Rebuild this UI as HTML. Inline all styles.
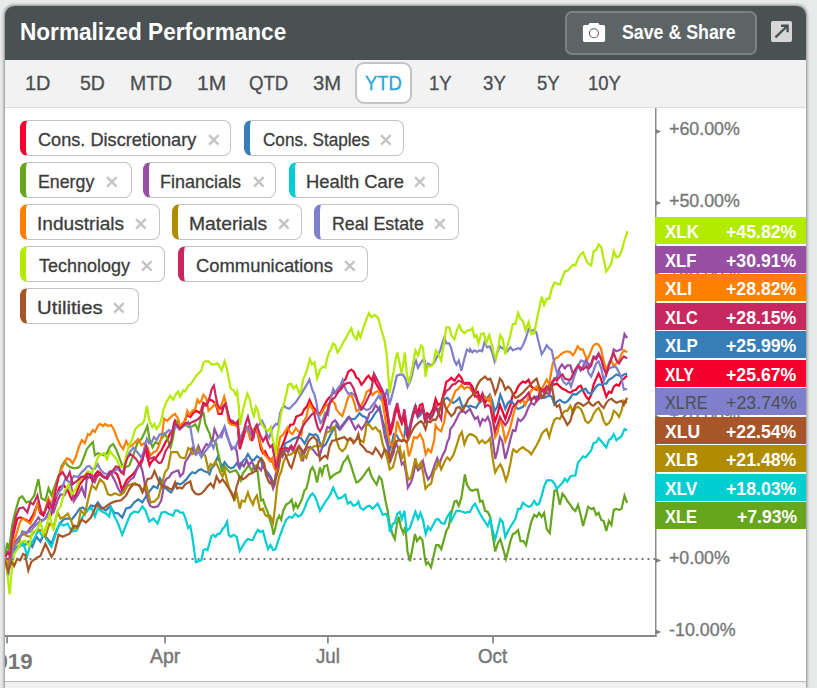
<!DOCTYPE html>
<html lang="en">
<head>
<meta charset="utf-8">
<title>Normalized Performance</title>
<style>
html,body{margin:0;padding:0;}
html{width:817px;height:688px;overflow:hidden;}
body{width:817px;height:688px;overflow:hidden;background:#e8eaea;font-family:"Liberation Sans", sans-serif;position:relative;}
.card{position:absolute;left:5px;top:6px;width:801px;height:682px;background:#fff;border-radius:9px 9px 0 0;box-shadow:0 0 3px 0.5px rgba(0,0,0,0.42);overflow:hidden;}
.abs{position:absolute;left:-5px;top:-6px;width:817px;height:688px;}
.hdr{position:absolute;left:5px;top:6px;width:801px;height:53.5px;background:#4a5153;}
.tabs{position:absolute;left:5px;top:59.5px;width:801px;height:47.5px;background:#f2f2f2;border-bottom:1px solid #dcdcdc;}
.plot{position:absolute;left:5px;top:108px;width:801px;height:573px;background:#fff;border-bottom:1.3px solid #b9b9b9;}
.foot{position:absolute;left:5px;top:682.3px;width:801px;height:5.7px;background:#f0f0f0;}
.t{position:absolute;white-space:pre;line-height:1;transform-origin:0 0;}
.btn{position:absolute;left:564.6px;top:10.6px;width:188.4px;height:40.4px;border:2px solid #7b8284;border-radius:7px;background:#5c6466;}
.ytd{position:absolute;left:355.3px;top:61.8px;width:52.7px;height:38px;border:2px solid #c4c4c4;border-radius:9px;background:#fff;}
.exp{position:absolute;left:771.3px;top:20.8px;width:21.2px;height:21px;border-radius:2px;background:#d6d6d6;}
.chip{position:absolute;box-sizing:border-box;height:35.6px;border:1.7px solid #c3c3c3;border-left:6px solid #000;border-radius:7.5px;background:#fff;}
.x{position:absolute;}
.x path{stroke:#c4c4c4;stroke-width:2.4;fill:none;}
.lab{position:absolute;left:655px;width:151px;height:27px;}
svg.chart{position:absolute;left:0;top:0;}
svg.chart .ln path{fill:none;stroke-width:2.2;stroke-linejoin:miter;stroke-linecap:butt;}
</style>
</head>
<body>
<div class="card"><div class="abs">
<div class="hdr"></div>
<span class="t" style="left:19.70px;top:20.07px;font-size:24.25px;font-weight:700;color:#ffffff;transform:scaleX(0.9319)">Normalized Performance</span>
<div class="btn"></div>
<svg class="x" style="left:582px;top:21px" width="26" height="24" viewBox="582 21 26 24">
<path d="M584.6 24.9 H588.3 L589.6 23.1 H598.4 L599.7 24.9 H603.4 Q605.1 24.9 605.1 26.6 V40.3 Q605.1 42 603.4 42 H584.6 Q582.9 42 582.9 40.3 V26.6 Q582.9 24.9 584.6 24.9 Z" style="fill:#fff;stroke:none"/>
<circle cx="593.9" cy="33.3" r="4.5" style="fill:#fff;stroke:#596163;stroke-width:1.1"/>
</svg>
<span class="t" style="left:621.66px;top:21.88px;font-size:20.93px;font-weight:700;color:#ffffff;transform:scaleX(0.8491)">Save &amp; Share</span>
<div class="exp"></div>
<svg class="x" style="left:771px;top:20px" width="22" height="22" viewBox="771 20 22 22">
<path d="M775.4 37.4 L787.2 26" style="stroke:#4a5153;stroke-width:2.4;fill:none"/>
<path d="M781 25.8 H787.6 V32.3" style="stroke:#4a5153;stroke-width:2.4;fill:none;stroke-linejoin:miter"/>
</svg>
<div class="tabs"></div>
<div class="ytd"></div>
<span class="t" style="left:25.45px;top:74.14px;font-size:19.33px;font-weight:400;color:#4a4f52;transform:scaleX(1.0337);-webkit-text-stroke:0.3px #4a4f52">1D</span>
<span class="t" style="left:79.74px;top:74.14px;font-size:19.33px;font-weight:400;color:#4a4f52;transform:scaleX(1.0087);-webkit-text-stroke:0.3px #4a4f52">5D</span>
<span class="t" style="left:130.09px;top:74.14px;font-size:19.33px;font-weight:400;color:#4a4f52;transform:scaleX(1.0051);-webkit-text-stroke:0.3px #4a4f52">MTD</span>
<span class="t" style="left:196.97px;top:74.14px;font-size:19.33px;font-weight:400;color:#4a4f52;transform:scaleX(1.0863);-webkit-text-stroke:0.3px #4a4f52">1M</span>
<span class="t" style="left:249.04px;top:74.14px;font-size:19.33px;font-weight:400;color:#4a4f52;transform:scaleX(0.9626);-webkit-text-stroke:0.3px #4a4f52">QTD</span>
<span class="t" style="left:312.92px;top:74.14px;font-size:19.33px;font-weight:400;color:#4a4f52;transform:scaleX(1.0449);-webkit-text-stroke:0.3px #4a4f52">3M</span>
<span class="t" style="left:429.16px;top:74.14px;font-size:19.33px;font-weight:400;color:#4a4f52;transform:scaleX(0.9581);-webkit-text-stroke:0.3px #4a4f52">1Y</span>
<span class="t" style="left:483.28px;top:74.14px;font-size:19.33px;font-weight:400;color:#4a4f52;transform:scaleX(0.9663);-webkit-text-stroke:0.3px #4a4f52">3Y</span>
<span class="t" style="left:537.08px;top:74.14px;font-size:19.33px;font-weight:400;color:#4a4f52;transform:scaleX(0.9618);-webkit-text-stroke:0.3px #4a4f52">5Y</span>
<span class="t" style="left:587.77px;top:74.14px;font-size:19.33px;font-weight:400;color:#4a4f52;transform:scaleX(0.9550);-webkit-text-stroke:0.3px #4a4f52">10Y</span>
<span class="t" style="left:365.22px;top:74.14px;font-size:19.33px;font-weight:400;color:#2ba6d6;transform:scaleX(0.9557);-webkit-text-stroke:0.3px #2ba6d6">YTD</span>
<div class="plot"></div>
<div class="foot"></div>
<svg class="chart" width="817" height="688" viewBox="0 0 817 688">
<g class="ln">
<path d="M5.5 557.9 L9.1 559.9 L13.1 535.7 L17.2 518.5 L20.2 517.5 L25.2 519.5 L29.3 521.5 L33.3 514.5 L37.4 504.4 L40.4 513.5 L43.4 515.5 L47.5 504.4 L51.5 513.5 L55.5 499.3 L59.6 487.2 L63.6 485.2 L67.7 490.2 L71.7 499.3 L75.7 495.3 L79.8 484.2 L83.8 479.1 L85.0 478.6 L87.2 476.4 L90.0 477.5 L92.7 478.6 L95.5 474.2 L97.7 471.4 L100.5 473.1 L103.2 476.4 L106.0 477.5 L108.7 474.2 L111.5 473.1 L114.3 472.0 L117.0 474.2 L119.2 479.7 L122.0 490.2 L124.2 485.2 L127.0 479.7 L129.2 477.5 L132.5 474.7 L134.7 472.0 L136.9 468.7 L139.1 464.2 L141.3 460.9 L143.5 454.3 L145.7 448.8 L147.4 457.6 L149.6 465.3 L151.3 462.0 L153.5 459.8 L156.2 457.6 L158.4 454.3 L161.2 451.0 L163.4 446.6 L165.6 442.1 L167.8 438.8 L170.0 433.3 L172.2 431.1 L175.1 420.9 L178.2 427.0 L181.2 425.0 L184.2 421.9 L187.3 414.9 L190.3 416.9 L193.3 412.8 L196.4 410.8 L199.4 412.8 L201.4 409.8 L203.4 402.7 L206.5 404.8 L209.5 399.7 L212.5 400.7 L214.5 402.7 L216.5 406.8 L218.6 413.9 L221.6 413.9 L223.6 406.8 L225.6 403.8 L227.7 412.8 L229.7 420.9 L232.7 423.9 L235.7 425.0 L237.8 427.0 L239.8 449.2 L242.8 439.1 L245.8 429.0 L247.9 427.0 L249.9 433.0 L251.9 441.1 L253.9 432.0 L255.9 427.0 L259.0 439.1 L261.0 449.2 L263.0 453.2 L265.0 451.2 L268.0 457.3 L270.1 459.3 L272.1 461.3 L275.1 467.4 L276.7 469.4 L278.1 456.8 L281.4 448.0 L284.8 439.2 L287.5 431.4 L290.3 424.8 L293.6 424.3 L296.3 416.5 L299.1 415.4 L301.9 414.3 L304.1 409.4 L306.8 406.6 L309.6 400.0 L312.4 406.0 L315.1 409.4 L317.9 413.8 L320.6 412.7 L323.4 407.1 L326.2 401.6 L328.9 397.8 L330.1 396.9 L333.2 392.9 L335.2 392.9 L338.2 388.9 L341.3 386.8 L343.3 380.8 L345.3 379.8 L348.3 371.7 L351.4 369.7 L353.8 371.7 L356.4 377.8 L358.4 378.8 L361.5 384.8 L364.5 380.8 L366.5 377.8 L368.5 375.7 L371.5 379.8 L373.6 375.7 L375.6 382.8 L378.6 387.9 L381.6 392.9 L384.7 403.0 L386.7 413.1 L388.7 425.2 L390.1 435.3 L392.8 425.2 L394.8 415.1 L397.2 407.0 L399.4 417.1 L401.8 423.2 L403.9 415.1 L405.9 429.3 L407.9 438.9 L409.9 429.3 L411.9 419.2 L415.0 409.1 L417.4 416.1 L420.0 405.0 L422.4 404.0 L425.1 417.1 L427.1 413.1 L430.1 415.1 L433.1 409.1 L435.6 399.0 L438.2 405.0 L441.2 403.0 L444.3 390.9 L446.3 381.8 L449.3 379.8 L451.3 377.8 L454.4 380.8 L456.4 377.8 L458.8 374.7 L461.4 377.8 L463.4 382.8 L466.5 382.8 L469.5 382.8 L472.4 386.6 L475.0 393.7 L477.7 391.7 L480.1 398.8 L482.5 393.7 L485.1 402.8 L487.8 397.8 L490.2 399.8 L492.6 410.9 L495.2 421.0 L497.3 414.9 L499.9 404.8 L502.3 410.9 L505.3 419.0 L508.0 410.9 L510.4 404.8 L512.8 394.7 L515.4 392.7 L518.1 386.6 L520.5 383.6 L522.9 381.6 L525.5 382.6 L528.6 379.6 L531.2 386.6 L534.2 388.7 L536.6 389.7 L539.1 387.7 L541.7 388.7 L544.1 389.7 L546.7 386.6 L549.2 386.6 L551.8 385.6 L554.4 384.6 L556.8 383.6 L559.9 386.6 L562.5 388.7 L564.9 389.7 L567.9 391.7 L570.4 392.7 L573.0 390.7 L576.0 389.7 L578.5 386.6 L580.7 385.6 L583.1 390.7 L586.1 396.7 L588.8 399.8 L591.2 394.7 L593.6 384.6 L596.2 378.6 L598.6 373.5 L601.3 379.6 L603.7 388.7 L606.3 396.7 L608.9 391.7 L611.4 392.7 L613.8 386.6 L616.4 384.6 L619.0 385.6 L621.5 380.6 L623.9 378.6 L627.1 375.5" stroke="#f4002d"/>
<path d="M5.5 559.9 L8.1 566.0 L12.1 553.9 L16.2 547.8 L20.2 544.8 L24.2 545.8 L28.3 541.7 L32.3 546.8 L36.4 536.7 L40.4 541.7 L43.4 534.7 L47.5 538.7 L51.5 543.8 L55.5 532.7 L59.6 523.6 L63.6 519.5 L67.7 518.5 L71.7 519.5 L75.7 514.5 L79.8 508.4 L82.8 507.4 L86.8 511.5 L90.9 505.4 L94.9 506.4 L97.9 502.4 L102.0 508.4 L106.0 510.4 L110.1 506.4 L114.1 512.5 L118.1 513.5 L122.2 517.5 L126.2 508.4 L130.3 507.4 L134.3 502.4 L138.3 499.3 L142.4 502.4 L145.4 497.3 L149.4 491.3 L153.5 486.2 L157.5 488.2 L160.0 478.4 L163.0 483.4 L165.0 487.5 L168.1 490.5 L171.1 492.5 L174.1 487.5 L177.2 483.4 L180.2 484.4 L183.2 482.4 L186.3 479.4 L189.3 475.3 L192.3 472.3 L195.3 473.3 L198.4 470.3 L201.4 469.3 L204.4 471.3 L207.5 472.3 L209.5 474.3 L211.5 468.3 L214.5 465.2 L217.6 457.2 L220.6 463.2 L222.6 466.3 L224.6 462.2 L227.7 466.3 L230.7 468.3 L233.7 467.3 L236.7 463.2 L239.8 468.3 L242.8 461.2 L245.8 458.2 L247.9 454.1 L250.9 459.2 L253.9 460.2 L256.9 456.2 L260.0 458.2 L263.0 466.3 L266.0 470.3 L269.1 474.3 L271.1 477.4 L273.1 483.4 L275.1 479.4 L278.1 460.2 L281.2 452.1 L284.2 450.1 L284.8 443.6 L289.2 441.4 L293.6 438.6 L298.0 437.0 L301.3 438.6 L304.6 443.6 L307.4 438.1 L309.6 433.7 L312.4 435.3 L315.7 434.2 L317.9 436.4 L320.1 443.6 L322.3 446.9 L325.6 444.7 L328.9 438.1 L332.2 431.4 L335.0 427.0 L336.2 425.2 L339.2 429.3 L342.3 425.2 L345.3 421.2 L348.3 417.1 L351.4 419.2 L354.4 419.2 L357.4 416.1 L359.4 413.1 L362.5 416.1 L365.5 417.1 L368.5 423.2 L371.5 419.2 L374.6 414.1 L377.6 410.1 L379.6 407.0 L382.7 421.2 L385.7 429.3 L387.7 442.1 L389.7 450.2 L391.7 444.1 L393.8 434.0 L396.8 435.3 L398.8 439.4 L401.8 441.4 L403.9 438.9 L405.9 425.2 L407.9 433.3 L409.9 425.2 L412.9 413.1 L415.4 406.0 L418.0 417.1 L420.4 415.1 L423.0 409.1 L425.5 423.2 L427.7 415.1 L430.5 417.1 L433.1 413.1 L435.6 410.1 L438.2 409.1 L441.2 407.0 L444.3 399.0 L447.3 397.9 L450.3 401.0 L453.3 403.0 L456.4 401.0 L459.4 397.9 L462.4 407.0 L465.5 405.0 L468.5 407.0 L470.0 405.8 L473.0 406.8 L476.1 407.9 L479.1 402.8 L482.1 400.8 L484.5 396.7 L487.2 398.8 L489.8 394.7 L492.2 400.8 L494.6 410.9 L497.3 406.8 L500.3 394.7 L502.7 400.8 L505.3 408.9 L508.0 402.8 L510.4 400.8 L512.8 402.8 L515.4 406.8 L518.1 408.9 L520.5 407.9 L522.9 406.8 L525.5 402.8 L528.6 399.8 L531.2 398.8 L534.2 397.8 L536.6 396.7 L539.1 396.7 L541.7 397.8 L544.1 397.8 L546.7 396.7 L549.2 395.7 L551.8 396.7 L554.4 404.8 L556.8 401.8 L559.9 399.8 L562.5 401.8 L564.9 402.8 L567.9 400.8 L570.4 397.8 L573.0 393.7 L576.0 394.7 L578.5 392.7 L580.7 390.7 L583.1 389.7 L585.5 388.7 L588.1 392.7 L591.2 393.7 L593.6 390.7 L596.2 386.6 L598.6 384.6 L601.3 384.6 L603.7 383.6 L606.3 383.6 L608.9 379.6 L611.4 378.6 L613.8 376.5 L616.4 374.5 L619.0 375.5 L621.5 376.5 L623.9 374.5 L627.1 373.5" stroke="#377eb8"/>
<path d="M5.5 555.9 L7.1 542.8 L9.1 549.8 L12.1 525.6 L15.1 512.5 L19.2 498.3 L22.2 496.3 L26.3 502.4 L30.3 501.4 L34.3 495.3 L38.4 479.1 L41.4 498.3 L45.4 500.3 L48.5 488.2 L51.5 495.3 L55.5 484.2 L59.6 473.1 L61.6 466.0 L64.6 461.3 L67.7 465.4 L70.7 467.4 L74.7 468.4 L78.8 467.4 L80.8 464.9 L83.8 457.3 L86.8 449.2 L89.9 445.2 L92.9 442.1 L94.9 455.3 L97.9 453.2 L101.0 454.2 L104.0 455.3 L107.0 453.2 L110.1 446.2 L113.1 444.1 L116.1 449.2 L119.2 457.3 L122.2 465.4 L125.2 467.4 L129.3 465.4 L133.3 455.3 L137.3 443.1 L141.4 439.1 L144.4 433.0 L147.4 426.0 L149.4 439.1 L152.5 447.2 L155.5 442.1 L158.5 444.1 L160.0 441.4 L162.8 437.0 L165.0 433.7 L167.7 439.2 L170.5 447.5 L172.7 439.2 L174.9 427.0 L177.1 421.5 L179.3 429.2 L182.1 427.0 L186.0 424.8 L188.7 427.0 L192.0 426.5 L195.3 424.3 L198.1 430.3 L200.3 420.4 L201.4 411.6 L203.6 413.2 L205.3 423.7 L207.5 429.2 L209.7 433.7 L210.8 438.6 L212.5 439.2 L216.3 443.6 L217.4 450.2 L219.1 456.8 L220.7 465.7 L221.8 471.0 L222.6 471.3 L224.6 466.3 L227.7 470.3 L229.7 472.3 L232.7 471.3 L235.7 470.3 L237.8 473.3 L240.8 480.4 L242.8 473.3 L245.8 469.3 L248.9 465.2 L251.9 471.3 L253.9 466.3 L256.9 465.2 L259.0 483.4 L261.0 500.6 L263.0 499.6 L265.0 505.6 L268.0 512.7 L270.1 520.8 L272.1 526.8 L273.5 534.9 L275.1 528.9 L277.1 519.8 L279.2 515.7 L281.2 519.8 L283.2 510.7 L286.2 504.6 L289.3 502.6 L291.7 499.6 L293.7 508.7 L295.7 503.6 L297.7 507.7 L300.4 502.6 L302.4 497.6 L304.4 490.5 L306.4 488.5 L308.4 480.4 L310.5 470.3 L312.5 467.3 L314.5 471.3 L315.0 473.4 L317.0 482.5 L320.0 467.4 L322.1 474.4 L324.1 466.4 L327.1 465.3 L330.1 478.5 L333.2 475.4 L336.2 473.4 L340.2 471.4 L343.3 462.3 L345.3 460.3 L347.7 456.3 L350.3 463.3 L353.4 473.4 L356.4 482.5 L358.4 481.5 L361.5 478.5 L364.5 474.4 L366.5 471.4 L368.9 468.4 L371.5 476.5 L374.6 481.5 L376.6 484.5 L379.2 476.5 L381.6 479.5 L383.7 490.6 L385.7 501.7 L387.7 510.8 L389.7 524.9 L392.8 535.0 L394.8 539.1 L396.8 524.9 L398.8 516.8 L400.8 526.9 L403.3 533.0 L405.3 526.9 L407.5 551.2 L409.9 561.3 L411.9 551.2 L415.0 534.0 L417.0 541.1 L420.0 537.0 L422.4 540.1 L425.1 559.3 L426.1 564.3 L428.1 562.3 L431.1 567.3 L434.2 553.2 L436.2 545.1 L438.6 545.1 L441.2 549.2 L443.2 542.1 L446.3 531.0 L448.7 526.9 L450.7 515.8 L454.4 501.7 L456.4 500.7 L458.8 505.7 L461.4 497.7 L463.4 484.5 L464.9 474.4 L466.9 484.5 L470.0 489.7 L472.4 490.7 L475.0 489.7 L477.7 489.7 L480.1 501.8 L482.5 500.8 L485.1 510.9 L487.8 511.9 L490.2 516.9 L492.6 535.1 L495.2 551.3 L497.9 543.2 L500.3 539.2 L502.7 547.2 L505.9 558.9 L508.0 551.3 L510.4 541.2 L512.8 534.1 L515.4 533.1 L518.1 530.1 L520.5 541.2 L523.5 541.2 L526.1 545.2 L528.6 533.1 L531.2 522.0 L534.2 514.9 L536.6 516.9 L539.1 512.9 L541.7 516.9 L544.1 512.9 L546.7 529.1 L549.8 533.1 L551.8 514.9 L554.4 490.7 L556.8 489.7 L559.9 504.8 L562.5 493.7 L564.9 496.7 L567.9 501.8 L570.4 504.8 L573.0 508.9 L575.4 510.9 L578.0 504.8 L580.7 514.9 L583.1 526.0 L585.5 516.9 L588.1 506.8 L591.2 508.9 L593.6 507.9 L596.2 514.9 L598.6 512.9 L601.3 520.0 L603.7 521.0 L606.3 531.1 L608.9 521.0 L611.4 525.0 L613.8 509.9 L616.4 508.9 L619.0 509.9 L621.5 508.9 L624.5 495.7 L627.1 502.8" stroke="#66a61e"/>
<path d="M5.5 559.9 L8.1 574.1 L11.1 553.9 L15.1 541.7 L19.2 536.7 L22.2 534.7 L26.3 533.7 L30.3 527.6 L34.3 523.6 L38.4 517.5 L41.4 521.5 L45.4 518.5 L49.5 510.4 L53.5 512.5 L57.6 500.3 L60.6 494.3 L64.6 495.3 L67.7 487.2 L70.7 483.2 L73.7 501.4 L77.8 495.3 L81.8 487.2 L84.4 495.3 L85.0 496.3 L86.7 479.7 L88.3 477.5 L91.6 474.2 L94.9 481.9 L97.1 476.4 L100.5 474.2 L103.8 476.4 L107.1 478.6 L110.4 473.1 L112.6 476.4 L115.4 481.9 L118.1 488.5 L121.4 494.0 L123.7 489.6 L127.0 484.1 L130.3 479.7 L133.6 477.5 L135.8 472.0 L138.0 466.4 L140.2 464.2 L142.4 470.9 L144.1 479.7 L145.7 490.7 L147.9 500.7 L150.2 506.0 L153.5 507.3 L157.9 506.2 L161.2 500.7 L162.9 491.8 L164.5 481.9 L166.7 478.6 L168.9 477.5 L171.7 473.1 L175.0 471.4 L178.2 470.3 L180.2 476.4 L183.2 473.3 L185.2 462.2 L187.3 459.2 L190.3 454.1 L192.3 448.1 L195.3 454.1 L198.4 446.1 L201.4 454.1 L203.4 449.1 L206.5 444.0 L209.5 446.1 L212.5 440.0 L214.5 429.0 L217.6 436.1 L219.6 437.1 L222.6 431.0 L224.6 427.0 L226.6 435.1 L229.7 443.1 L231.7 449.2 L234.7 447.2 L236.7 451.2 L237.8 459.2 L238.8 466.3 L240.8 463.2 L243.8 466.3 L246.8 460.2 L248.9 465.2 L251.9 461.2 L254.9 469.3 L257.9 466.3 L261.0 470.3 L263.0 464.2 L265.0 470.3 L268.0 475.3 L270.1 477.4 L273.1 488.5 L275.1 483.4 L277.1 460.2 L279.2 450.1 L282.5 456.8 L285.3 449.1 L288.1 452.4 L290.3 446.9 L292.5 450.2 L294.7 452.4 L298.0 446.9 L301.3 450.2 L303.0 461.3 L304.6 452.4 L306.8 448.0 L310.2 446.9 L313.5 450.2 L316.8 454.6 L319.5 456.3 L322.3 446.9 L324.5 437.0 L327.3 427.0 L330.0 428.1 L332.2 422.6 L335.0 420.4 L337.2 423.2 L340.2 429.3 L343.3 425.2 L346.3 421.2 L349.3 417.1 L352.4 423.2 L355.4 429.3 L358.4 425.2 L361.5 429.3 L364.5 425.2 L367.5 419.2 L369.5 413.1 L372.6 411.1 L375.6 405.0 L378.6 409.1 L380.6 413.1 L383.7 429.3 L384.7 436.1 L387.7 446.2 L390.7 460.3 L393.8 452.2 L395.8 442.1 L398.8 450.2 L401.8 464.3 L403.9 462.3 L406.3 474.4 L407.9 487.6 L410.9 482.5 L412.9 476.5 L415.4 464.3 L418.0 470.4 L421.0 467.4 L423.0 461.3 L425.5 472.4 L428.1 479.5 L431.1 475.4 L434.2 466.4 L437.2 458.3 L439.2 464.3 L442.2 456.3 L445.3 450.2 L447.3 442.1 L449.3 438.1 L450.3 429.3 L453.3 425.2 L456.4 419.2 L459.4 413.1 L462.4 410.1 L465.5 413.1 L468.5 410.1 L470.0 408.9 L472.4 413.9 L475.0 419.0 L477.7 416.9 L480.1 425.0 L482.5 419.0 L485.1 421.0 L487.8 416.9 L490.2 423.0 L492.6 439.2 L495.2 458.9 L497.3 451.3 L499.9 437.1 L502.3 441.2 L505.3 458.9 L508.0 449.3 L510.4 439.2 L512.8 430.1 L515.4 431.1 L518.1 419.0 L520.5 421.0 L522.9 419.0 L525.5 414.9 L528.6 406.8 L531.2 402.8 L534.2 404.8 L536.6 400.8 L539.1 398.8 L541.7 396.7 L544.1 394.7 L546.7 392.7 L549.2 394.7 L551.8 386.6 L554.4 378.6 L556.8 377.6 L559.3 368.5 L561.9 364.4 L564.9 368.5 L567.3 365.4 L570.4 365.4 L573.0 374.5 L575.4 369.5 L578.0 366.5 L580.7 370.5 L583.1 366.5 L586.1 359.4 L588.8 365.4 L591.2 363.4 L593.6 356.4 L596.2 357.4 L598.6 353.3 L601.3 358.4 L603.7 366.5 L606.3 372.5 L608.9 363.4 L611.4 358.4 L613.8 349.3 L616.4 351.3 L619.0 350.3 L621.5 349.3 L624.5 334.1 L627.1 338.2" stroke="#984ea3"/>
<path d="M5.5 559.9 L8.1 572.0 L11.1 557.9 L15.1 551.8 L19.2 546.8 L23.2 542.8 L27.3 555.9 L30.3 544.8 L34.3 538.7 L38.4 529.6 L41.4 534.7 L45.4 537.7 L49.5 543.8 L51.5 546.8 L55.5 534.7 L59.6 523.6 L63.6 525.6 L67.7 523.6 L71.7 531.6 L76.7 530.6 L79.8 523.6 L83.8 514.5 L87.9 509.4 L91.9 508.4 L94.9 516.5 L97.9 508.4 L102.0 511.5 L106.0 513.5 L109.1 516.5 L111.1 507.4 L114.1 515.5 L118.1 523.6 L122.2 534.7 L126.2 524.6 L130.3 514.5 L134.3 511.5 L138.3 512.5 L142.4 506.4 L145.4 510.4 L149.4 521.5 L153.5 518.5 L157.5 523.6 L161.6 512.5 L162.0 512.7 L165.0 511.7 L168.1 513.7 L171.1 514.7 L173.1 515.7 L175.1 510.7 L178.2 510.7 L180.2 512.7 L183.2 512.7 L185.2 517.8 L188.3 527.9 L190.3 525.8 L192.3 536.9 L194.3 551.1 L195.9 562.2 L198.4 561.2 L201.4 560.2 L203.4 550.1 L205.4 549.1 L207.5 550.1 L209.5 543.0 L211.5 535.9 L213.5 534.9 L215.5 536.9 L217.6 533.9 L219.6 533.9 L222.6 528.9 L224.6 526.8 L227.1 521.8 L228.7 534.9 L230.7 536.9 L233.7 534.9 L236.7 536.9 L239.8 551.1 L242.8 546.0 L245.8 541.0 L247.9 539.0 L250.9 540.0 L252.9 540.0 L255.9 532.9 L257.9 529.9 L260.0 531.9 L263.0 530.9 L265.0 539.0 L268.0 549.1 L270.5 545.0 L273.1 550.1 L275.5 549.1 L278.1 541.0 L280.2 534.9 L283.2 526.8 L286.2 519.8 L289.3 516.7 L292.3 517.8 L295.3 513.7 L298.3 516.7 L301.4 514.7 L304.4 508.7 L307.4 500.6 L310.5 495.5 L312.5 493.5 L315.0 496.6 L317.0 501.7 L320.0 510.8 L323.1 505.7 L326.1 500.7 L329.1 496.6 L331.2 492.6 L333.2 487.6 L335.2 492.6 L338.2 498.7 L341.3 497.7 L345.3 494.6 L347.7 503.7 L350.3 501.7 L353.4 505.7 L356.4 504.7 L358.4 501.7 L360.4 507.8 L363.5 509.8 L366.5 506.7 L369.5 505.7 L372.6 508.8 L375.6 505.7 L377.6 503.7 L380.6 509.8 L382.7 514.8 L385.7 513.8 L387.7 516.8 L390.1 532.0 L392.8 523.9 L394.8 522.9 L397.2 513.8 L399.8 511.8 L401.8 518.9 L404.3 510.8 L406.9 531.0 L409.9 527.9 L412.9 518.9 L415.4 511.8 L418.0 518.9 L420.4 512.8 L423.0 519.9 L425.7 534.0 L428.1 526.9 L430.5 530.0 L433.1 524.9 L435.6 519.9 L438.2 518.9 L441.2 522.9 L444.3 523.9 L447.3 516.8 L449.9 512.8 L451.3 520.9 L454.4 514.8 L456.4 510.8 L459.4 510.8 L462.4 511.8 L465.5 512.8 L468.5 511.8 L470.0 511.9 L472.4 506.8 L475.0 503.8 L477.7 508.9 L480.1 513.9 L482.5 517.9 L485.1 522.0 L487.8 526.0 L490.2 519.0 L492.6 530.1 L495.2 539.2 L497.9 529.1 L500.3 519.0 L502.7 522.0 L505.3 537.1 L508.0 531.1 L510.4 527.0 L512.8 523.0 L515.4 519.0 L518.1 508.9 L520.5 508.9 L522.9 502.8 L525.5 504.8 L528.6 506.8 L531.2 505.8 L534.2 500.8 L536.6 504.8 L539.1 503.8 L541.7 495.7 L544.1 486.6 L546.7 480.6 L549.2 480.2 L551.8 480.6 L554.4 483.6 L556.8 488.7 L559.9 485.6 L562.5 482.6 L564.9 478.6 L567.3 481.6 L570.4 476.5 L573.0 475.5 L575.4 475.5 L578.0 462.4 L580.7 459.4 L583.1 456.4 L585.5 457.4 L588.1 454.3 L591.2 450.3 L593.6 443.2 L596.2 442.2 L598.6 438.2 L601.3 441.2 L603.7 444.2 L606.3 447.3 L608.9 440.2 L611.4 438.2 L613.8 434.1 L616.4 440.2 L619.0 438.2 L621.5 436.2 L624.5 429.1 L627.1 430.1" stroke="#00ced1"/>
<path d="M5.5 558.9 L9.1 564.0 L12.1 545.8 L16.2 534.7 L20.2 521.5 L23.2 518.5 L27.3 521.5 L30.3 523.6 L34.3 515.5 L37.4 503.4 L40.4 511.5 L44.4 512.5 L48.5 498.3 L51.5 505.4 L54.5 491.3 L57.6 481.2 L60.6 471.1 L63.0 466.0 L66.6 458.3 L69.7 459.3 L72.7 463.3 L75.7 457.3 L78.8 447.2 L81.8 440.1 L84.8 443.1 L87.9 434.0 L89.9 435.1 L92.9 430.0 L94.9 432.0 L97.9 426.0 L100.0 423.9 L103.0 426.0 L105.0 423.9 L108.0 426.0 L111.1 425.0 L114.1 430.0 L117.1 438.1 L120.2 445.2 L123.2 449.2 L126.2 441.1 L129.3 447.2 L132.3 445.2 L135.3 442.1 L138.3 439.1 L141.4 445.2 L144.4 443.1 L147.4 447.2 L150.5 455.3 L153.5 452.2 L156.5 451.2 L159.5 444.1 L162.0 435.1 L164.0 418.9 L167.1 420.9 L170.1 417.9 L173.1 414.9 L175.1 413.9 L178.2 418.9 L180.2 427.0 L183.2 422.9 L185.2 420.9 L187.3 410.8 L189.3 414.9 L192.3 410.8 L195.3 408.8 L197.4 399.7 L199.4 402.7 L201.4 400.7 L203.4 394.7 L206.5 398.7 L208.5 410.8 L210.5 408.8 L213.5 405.8 L215.5 402.7 L218.6 410.8 L221.6 404.8 L224.2 396.7 L226.2 404.8 L228.7 422.9 L231.7 425.0 L234.7 425.0 L237.8 427.0 L239.8 439.1 L242.8 435.1 L244.8 429.0 L247.9 431.0 L249.9 438.1 L251.9 433.0 L253.9 429.0 L255.9 427.0 L259.0 437.1 L261.0 445.2 L263.0 451.2 L265.0 455.3 L267.0 457.3 L270.1 461.3 L272.1 458.3 L274.1 467.4 L276.1 471.4 L277.0 461.3 L278.1 448.0 L280.3 437.0 L283.7 433.7 L287.5 427.6 L290.3 432.5 L292.5 434.2 L295.8 428.1 L299.1 432.0 L301.3 434.8 L303.5 421.5 L306.3 417.1 L307.9 409.4 L309.6 403.8 L311.3 407.1 L313.5 411.6 L316.8 413.8 L320.1 415.4 L322.3 411.6 L325.6 406.0 L328.9 403.8 L332.2 400.5 L335.0 403.8 L336.2 409.1 L339.2 413.1 L342.3 416.1 L345.3 407.0 L348.3 396.9 L351.4 394.9 L354.4 403.0 L356.4 411.1 L358.4 410.1 L361.5 405.0 L364.5 399.0 L366.5 391.9 L369.5 389.9 L372.6 394.9 L375.6 391.9 L378.6 390.9 L381.6 396.9 L383.7 409.1 L385.7 421.2 L387.7 433.3 L389.7 442.1 L392.8 447.2 L394.8 438.1 L397.2 421.2 L399.8 429.3 L402.2 435.3 L406.9 444.1 L408.9 456.3 L410.9 450.2 L414.0 437.1 L417.0 438.1 L420.0 434.0 L423.0 440.1 L425.7 454.2 L428.1 449.2 L431.1 452.2 L434.2 440.1 L435.6 425.2 L438.2 429.3 L441.2 431.3 L444.3 421.2 L446.3 409.1 L449.3 405.0 L452.3 399.0 L455.4 390.9 L458.4 388.9 L461.4 384.8 L464.4 388.9 L467.5 386.8 L470.5 388.9 L473.0 392.7 L476.1 395.7 L479.1 400.8 L482.1 399.8 L485.1 396.7 L488.2 400.8 L490.2 396.7 L492.2 414.9 L495.2 437.1 L497.3 433.1 L499.9 421.0 L502.3 425.0 L505.3 441.2 L508.0 434.1 L510.4 427.0 L512.8 416.9 L515.4 406.8 L518.1 400.8 L520.5 402.8 L522.9 399.8 L525.5 404.8 L528.6 396.7 L531.2 390.7 L534.2 388.7 L536.6 386.6 L539.1 392.7 L541.7 389.7 L544.1 384.6 L546.7 379.6 L549.2 384.6 L550.8 374.5 L552.8 363.4 L555.2 358.4 L557.9 357.4 L560.9 354.3 L563.9 352.3 L566.9 351.3 L570.0 351.9 L573.0 355.3 L575.0 352.3 L577.6 346.3 L580.1 349.3 L582.7 349.3 L585.1 355.3 L587.5 359.4 L590.2 353.3 L592.8 346.3 L595.6 343.8 L598.2 344.2 L600.9 348.3 L603.3 359.4 L605.7 368.5 L608.3 365.4 L611.4 360.4 L613.8 366.5 L616.4 363.4 L619.0 360.4 L621.5 354.3 L623.9 350.3 L627.1 352.3" stroke="#ff7f00"/>
<path d="M5.5 559.9 L8.1 570.0 L11.1 551.8 L15.1 544.8 L19.2 541.7 L22.2 531.6 L26.3 535.7 L30.3 536.7 L34.3 531.6 L38.4 529.6 L42.4 530.6 L45.4 536.7 L49.5 523.6 L53.5 526.6 L57.6 512.5 L60.6 518.5 L64.6 516.5 L67.7 513.5 L70.7 519.5 L73.7 528.6 L77.8 527.6 L80.8 510.4 L84.8 514.5 L88.9 496.3 L91.9 485.2 L95.9 489.2 L100.0 479.1 L104.0 483.2 L108.0 494.3 L111.1 495.3 L115.1 493.3 L119.2 495.3 L123.2 493.3 L127.2 486.2 L131.3 484.2 L135.3 483.2 L139.4 486.2 L143.4 491.3 L146.4 485.2 L150.5 502.4 L154.5 501.4 L158.5 497.3 L161.6 485.2 L163.0 480.4 L165.0 472.3 L168.1 468.3 L171.1 452.1 L174.1 452.1 L177.2 452.1 L180.2 457.2 L183.2 458.2 L185.2 458.2 L188.3 448.1 L190.3 449.1 L192.3 454.1 L195.3 452.1 L197.4 448.1 L200.4 455.1 L203.4 453.1 L205.4 456.2 L208.5 470.3 L210.5 464.2 L213.5 465.2 L215.5 461.2 L218.6 468.3 L220.6 473.3 L222.6 476.4 L224.6 470.3 L227.7 483.4 L230.7 492.5 L232.7 496.5 L234.7 499.6 L236.7 493.5 L239.8 508.7 L241.8 500.6 L244.8 501.6 L247.9 492.5 L249.9 498.6 L252.9 504.6 L254.9 498.6 L256.9 495.5 L260.0 509.7 L263.0 508.7 L265.0 514.7 L268.0 516.7 L270.1 515.7 L273.1 522.8 L275.1 506.6 L277.1 486.5 L279.2 476.4 L281.4 471.0 L283.7 461.3 L287.0 455.2 L290.3 454.6 L293.6 452.4 L296.9 449.1 L299.1 452.4 L301.3 459.6 L303.5 454.6 L306.3 457.9 L308.5 450.2 L311.3 448.0 L314.0 446.3 L316.8 445.8 L320.1 446.3 L322.3 443.6 L324.5 439.2 L326.7 432.5 L329.5 431.4 L332.2 427.6 L335.0 427.0 L336.2 439.1 L339.2 448.2 L342.3 451.2 L345.3 448.2 L348.3 440.1 L351.4 439.1 L354.4 442.1 L357.4 438.1 L360.4 440.1 L363.5 442.1 L365.5 432.0 L366.5 424.2 L369.5 425.2 L372.6 429.3 L375.6 427.2 L378.6 431.3 L380.0 431.0 L382.7 444.1 L384.7 450.2 L387.7 460.3 L389.7 469.4 L392.8 467.4 L394.8 460.3 L396.8 452.2 L399.8 447.2 L401.8 458.3 L403.9 453.2 L406.3 470.4 L408.3 479.5 L410.9 477.5 L412.9 469.4 L415.4 458.3 L418.0 467.4 L421.0 462.3 L423.0 472.4 L425.5 488.6 L428.1 485.5 L431.1 483.5 L434.2 470.4 L436.2 468.4 L438.6 461.3 L441.2 469.4 L444.3 462.3 L447.3 457.3 L449.9 460.3 L453.3 455.2 L456.4 446.2 L459.4 436.1 L461.8 432.0 L464.4 444.1 L467.5 436.1 L470.0 434.1 L473.0 435.1 L476.1 437.1 L479.1 443.2 L482.1 440.2 L485.1 443.2 L487.8 441.2 L490.2 438.2 L492.6 458.4 L495.2 472.5 L497.9 467.5 L500.3 464.4 L502.7 469.5 L505.9 480.6 L508.0 474.5 L510.4 463.4 L512.8 450.3 L513.4 449.3 L516.5 452.3 L519.5 449.3 L522.9 447.2 L525.5 449.3 L528.6 451.3 L531.2 454.3 L534.2 449.3 L536.6 445.2 L539.7 439.2 L541.7 434.1 L544.1 431.1 L546.7 429.1 L549.2 437.1 L551.8 427.0 L554.4 420.0 L556.8 417.9 L559.9 419.0 L562.5 413.9 L564.9 410.9 L567.3 410.9 L570.4 405.8 L573.0 412.9 L575.4 407.9 L578.0 406.8 L580.7 408.9 L583.1 413.9 L585.5 421.0 L588.1 423.0 L591.2 420.0 L593.6 413.9 L596.2 409.9 L598.6 407.9 L601.3 412.9 L603.7 421.0 L606.3 425.0 L608.9 423.0 L611.4 419.0 L613.8 410.9 L616.4 412.9 L619.0 416.9 L621.5 410.9 L623.9 400.8 L627.1 402.8" stroke="#b08d00"/>
<path d="M5.5 558.9 L8.1 576.1 L11.1 555.9 L15.1 545.8 L19.2 537.7 L23.2 531.6 L27.3 532.7 L30.3 531.6 L34.3 526.6 L38.4 522.6 L41.4 520.5 L45.4 518.5 L49.5 514.5 L53.5 499.3 L57.6 493.3 L61.6 489.2 L65.6 478.1 L69.7 483.2 L73.7 476.1 L77.8 477.1 L81.8 472.1 L84.8 469.4 L87.2 466.4 L89.4 465.9 L92.2 469.2 L94.9 468.7 L97.7 464.2 L100.5 469.8 L103.8 473.1 L107.1 474.2 L110.4 470.9 L113.7 472.0 L117.0 468.7 L120.3 470.9 L123.1 472.0 L125.9 459.8 L128.6 454.3 L131.4 449.9 L133.6 447.7 L135.8 450.4 L138.6 453.7 L141.3 457.6 L143.5 452.1 L145.2 444.4 L146.8 438.8 L149.0 443.3 L151.3 442.7 L154.0 437.2 L156.8 439.9 L159.5 434.4 L162.3 433.9 L165.6 433.3 L168.9 430.0 L171.1 432.0 L173.1 431.0 L176.2 426.0 L179.2 429.0 L182.2 427.0 L185.2 425.0 L188.3 421.9 L190.3 427.0 L192.3 439.1 L194.3 449.2 L196.4 454.2 L199.4 451.2 L201.4 457.3 L203.4 454.2 L205.4 451.2 L208.5 447.2 L210.5 442.1 L213.5 448.2 L216.5 439.1 L219.6 436.1 L221.6 437.1 L224.6 427.0 L226.6 433.0 L229.7 443.1 L232.7 448.2 L235.7 447.2 L237.8 441.1 L240.8 436.1 L243.8 431.0 L246.8 427.0 L249.9 432.0 L252.9 438.1 L255.9 427.0 L259.0 425.0 L262.0 420.9 L265.0 427.0 L267.0 435.1 L269.1 438.1 L272.1 429.0 L274.1 426.0 L276.1 423.9 L278.1 425.0 L280.2 412.8 L282.2 407.8 L284.2 405.8 L286.2 407.8 L289.3 408.8 L292.3 405.8 L295.3 402.7 L298.3 398.7 L301.4 393.7 L304.4 388.6 L307.4 383.6 L309.4 379.5 L311.9 388.6 L314.5 394.7 L316.5 402.7 L318.5 416.9 L320.6 422.9 L322.6 420.9 L325.0 412.8 L328.1 415.1 L330.1 401.0 L333.2 388.9 L335.2 392.9 L338.2 387.9 L340.2 385.8 L342.7 379.8 L345.3 388.9 L348.3 393.9 L351.4 392.9 L354.4 394.9 L356.4 399.0 L358.4 405.0 L360.4 410.1 L363.5 408.0 L366.5 410.1 L369.5 409.1 L372.6 405.0 L375.6 401.0 L378.6 395.9 L380.6 399.0 L382.7 392.9 L385.1 395.9 L387.3 388.9 L389.3 405.0 L391.7 396.9 L394.8 384.8 L396.8 375.7 L399.8 374.7 L402.9 374.7 L405.5 378.8 L407.5 386.8 L409.9 381.8 L411.9 375.7 L414.0 365.6 L416.0 360.6 L418.0 367.7 L421.0 362.6 L424.1 358.6 L426.1 368.7 L428.1 363.6 L431.1 365.6 L434.2 362.6 L437.2 356.5 L440.2 350.5 L442.2 343.4 L444.3 337.4 L446.3 343.4 L449.3 343.4 L451.3 348.5 L454.4 360.6 L456.4 364.6 L458.8 360.6 L461.4 370.7 L464.4 358.6 L466.9 349.5 L469.5 351.5 L470.0 349.3 L472.4 352.3 L474.4 350.3 L477.1 351.9 L479.7 350.3 L482.1 351.3 L484.5 342.2 L487.2 347.3 L489.8 346.3 L492.2 352.3 L494.6 361.4 L497.3 352.3 L499.9 346.3 L502.3 348.3 L504.7 349.3 L507.4 351.3 L510.4 347.3 L512.8 350.3 L515.4 349.3 L518.5 348.3 L520.5 349.3 L522.9 345.2 L525.5 339.2 L528.6 329.1 L531.2 331.1 L533.6 330.1 L536.2 332.1 L538.7 342.2 L541.7 354.3 L544.3 350.3 L546.7 345.2 L549.2 348.3 L551.8 350.3 L553.8 360.4 L555.8 368.5 L557.9 375.5 L559.9 372.5 L561.9 378.6 L563.9 382.6 L566.5 384.6 L569.0 381.6 L571.0 386.6 L573.4 378.6 L576.0 371.5 L578.5 364.4 L581.1 360.4 L583.5 361.4 L586.1 363.4 L588.8 373.5 L591.2 376.5 L593.6 370.5 L596.2 363.4 L598.6 361.4 L601.3 368.5 L603.7 380.6 L606.3 373.5 L608.9 368.5 L611.4 367.5 L613.8 366.5 L616.4 367.5 L619.0 372.5 L621.5 378.6 L623.9 389.7 L627.1 388.7" stroke="#7f7fcc"/>
<path d="M5.5 558.9 L7.7 577.1 L9.7 594.3 L11.7 571.0 L14.1 553.9 L18.2 547.8 L21.2 541.7 L25.2 540.7 L29.3 545.8 L32.3 531.6 L36.4 530.6 L40.4 522.6 L43.4 533.7 L46.5 525.6 L49.5 514.5 L53.5 530.6 L57.6 510.4 L60.6 506.4 L64.6 491.3 L68.7 484.2 L71.7 494.3 L75.7 489.2 L79.8 480.1 L83.8 476.1 L87.9 471.1 L91.9 473.1 L94.9 466.0 L97.9 457.3 L101.0 454.2 L104.0 453.2 L107.0 459.3 L110.1 451.2 L113.1 455.3 L116.1 458.3 L119.2 465.4 L121.8 467.4 L124.2 464.9 L126.2 455.3 L129.3 445.2 L132.3 439.1 L135.3 429.0 L139.4 425.0 L142.4 423.9 L144.4 419.9 L146.8 405.8 L149.4 420.9 L152.5 427.0 L154.5 423.9 L156.5 429.0 L159.5 425.0 L162.6 414.9 L163.0 410.8 L166.1 402.7 L170.1 395.7 L173.1 399.7 L176.2 393.7 L178.2 391.6 L180.2 396.7 L183.2 390.6 L185.2 391.6 L188.3 385.6 L190.3 384.6 L193.3 380.5 L196.4 375.5 L199.4 372.5 L201.4 370.4 L203.4 362.4 L205.4 361.3 L208.5 361.3 L211.5 364.4 L214.5 364.4 L217.6 363.4 L219.6 366.4 L221.6 370.4 L224.6 361.3 L226.6 367.4 L228.7 378.5 L230.7 388.6 L233.7 390.6 L235.7 394.7 L237.1 391.6 L238.8 406.8 L240.2 425.0 L242.8 410.8 L244.8 402.7 L247.4 393.7 L249.9 399.7 L251.9 410.8 L253.9 415.9 L255.9 406.8 L257.9 410.8 L260.0 420.9 L263.0 426.0 L265.0 429.0 L268.0 431.0 L270.7 427.0 L272.1 436.1 L274.1 445.2 L275.5 455.3 L277.1 439.1 L279.2 425.0 L281.2 412.8 L284.2 402.7 L286.2 394.7 L288.2 384.6 L291.3 383.6 L293.3 388.6 L296.3 385.6 L299.4 393.7 L301.4 389.6 L303.4 378.5 L305.4 374.5 L307.4 368.4 L309.9 359.3 L311.9 364.4 L314.5 362.4 L317.1 378.5 L317.4 377.8 L320.0 369.7 L323.1 366.6 L325.1 367.7 L327.1 358.6 L329.1 352.5 L331.2 348.5 L333.2 343.4 L335.2 345.4 L337.6 352.5 L340.2 348.5 L343.3 342.4 L346.3 337.4 L348.3 333.3 L351.4 328.3 L353.4 335.3 L356.4 339.4 L358.4 332.3 L360.4 337.4 L363.5 327.3 L366.5 319.2 L368.9 313.1 L371.5 317.2 L374.6 315.1 L376.6 316.2 L378.6 319.2 L380.6 327.3 L382.7 334.3 L384.7 341.4 L386.7 354.5 L388.1 372.7 L389.7 392.9 L391.7 380.8 L393.8 370.7 L395.8 358.6 L397.4 352.5 L399.4 362.6 L401.4 372.7 L402.9 366.6 L404.9 352.5 L406.9 374.7 L408.9 381.8 L410.9 374.7 L412.9 364.6 L415.4 350.5 L418.0 355.5 L421.0 345.4 L423.0 347.5 L425.5 376.7 L427.7 365.6 L430.5 366.6 L433.1 364.6 L435.8 350.5 L438.2 353.5 L441.2 360.6 L443.2 348.5 L446.3 327.3 L449.3 327.3 L451.3 335.3 L454.4 339.4 L456.8 330.3 L459.2 325.2 L461.4 330.3 L464.4 333.3 L467.5 330.3 L470.1 330.3 L472.4 328.0 L474.4 337.1 L476.5 335.1 L478.5 343.2 L481.1 334.1 L483.7 333.1 L486.2 343.2 L489.2 335.1 L491.8 344.2 L493.8 353.3 L495.9 358.9 L497.9 349.3 L500.3 335.1 L502.7 339.2 L505.3 354.3 L508.0 344.2 L510.4 335.1 L512.8 324.0 L515.4 324.0 L518.1 312.9 L520.5 319.0 L522.9 321.0 L525.5 330.1 L528.6 322.0 L531.2 334.1 L534.2 333.1 L536.6 321.0 L539.1 308.9 L541.7 296.7 L544.1 304.8 L546.7 298.8 L549.2 298.8 L551.8 288.7 L554.4 282.6 L556.8 283.6 L559.9 284.6 L562.3 277.6 L564.9 271.5 L567.9 270.5 L570.4 267.5 L573.0 264.8 L575.4 265.4 L578.0 258.4 L580.7 254.3 L583.1 252.3 L585.5 258.4 L588.1 263.4 L591.2 265.4 L593.6 251.3 L596.2 249.9 L598.6 244.2 L601.3 247.3 L603.7 259.4 L606.3 271.5 L608.9 267.5 L611.4 263.4 L613.8 251.3 L616.4 257.4 L619.0 256.4 L621.5 251.3 L624.5 240.2 L627.5 231.1" stroke="#b2ea00"/>
<path d="M5.5 556.9 L8.1 551.8 L10.1 555.9 L13.1 529.6 L16.2 515.5 L19.2 508.4 L23.2 507.4 L27.3 512.5 L30.3 502.4 L33.3 504.4 L37.4 495.3 L41.4 512.5 L44.4 513.5 L48.5 501.4 L52.5 508.4 L55.5 491.3 L58.6 476.1 L62.6 472.1 L66.6 479.1 L69.7 472.1 L72.7 484.2 L76.7 481.2 L80.8 477.1 L85.0 476.4 L87.2 473.6 L90.0 474.2 L92.7 481.9 L95.5 477.5 L98.3 474.2 L101.0 475.3 L103.8 477.5 L107.1 478.6 L109.8 472.0 L112.6 470.9 L115.9 466.4 L118.7 467.0 L120.9 472.0 L123.7 474.2 L125.3 464.2 L127.5 457.6 L130.3 454.3 L133.0 456.0 L135.8 458.7 L138.0 462.0 L140.2 465.3 L142.4 460.9 L144.6 452.1 L146.3 446.6 L147.9 452.1 L149.6 458.7 L151.8 458.2 L154.0 457.1 L156.2 460.4 L159.0 463.1 L161.2 462.6 L163.4 457.6 L165.6 451.0 L168.4 446.6 L171.1 441.0 L174.1 422.9 L177.2 425.0 L180.2 429.0 L183.2 425.0 L186.3 422.9 L189.3 423.9 L192.3 421.9 L195.3 420.9 L198.4 418.9 L201.4 415.9 L203.4 404.8 L206.5 405.8 L209.5 397.7 L211.9 388.6 L213.9 385.6 L215.5 394.7 L217.6 404.8 L219.6 407.8 L221.6 408.8 L223.6 405.8 L225.6 403.8 L227.7 412.8 L229.7 419.9 L232.7 420.9 L235.7 423.9 L237.8 420.9 L239.8 447.2 L241.8 439.1 L243.8 431.0 L245.8 422.9 L247.9 416.9 L249.9 425.0 L251.9 431.0 L253.3 439.1 L254.9 429.0 L256.9 425.0 L259.0 432.0 L261.0 437.1 L263.0 441.1 L266.0 436.1 L268.0 443.1 L270.1 447.2 L272.1 445.2 L274.1 455.3 L276.1 467.4 L277.0 465.7 L279.2 454.6 L282.5 449.1 L285.9 448.0 L289.2 449.1 L291.4 445.8 L293.6 449.1 L296.9 441.4 L300.2 432.5 L302.4 427.0 L305.2 422.6 L307.9 419.3 L311.3 414.9 L314.0 412.7 L315.7 420.4 L317.9 428.1 L320.1 431.4 L322.3 427.0 L324.5 420.4 L326.7 413.8 L328.9 404.9 L332.2 399.4 L335.0 397.2 L338.2 391.9 L341.3 388.9 L344.3 384.8 L347.3 382.8 L350.3 382.8 L353.4 387.9 L356.4 396.9 L358.4 403.0 L361.5 409.1 L364.5 405.0 L367.5 399.0 L370.5 392.9 L372.6 382.8 L374.0 373.7 L376.6 378.8 L379.6 384.8 L382.7 390.9 L385.7 399.0 L387.7 413.1 L390.1 429.3 L392.8 421.2 L394.8 411.1 L397.2 403.0 L399.8 415.1 L402.2 421.2 L404.3 409.1 L406.3 423.2 L408.3 438.9 L410.3 427.2 L412.9 415.1 L415.4 405.0 L418.0 415.1 L420.0 412.1 L422.4 407.0 L425.1 421.2 L427.7 415.1 L430.1 419.2 L433.1 415.1 L435.6 405.0 L438.2 413.1 L441.2 419.2 L443.2 396.9 L446.3 390.9 L449.3 388.9 L452.3 384.8 L455.4 383.8 L458.4 380.8 L461.4 381.8 L464.4 383.8 L467.5 383.8 L470.5 384.8 L472.4 390.7 L475.0 396.7 L477.7 395.7 L480.1 400.8 L482.5 394.7 L485.1 406.8 L487.8 404.8 L490.2 406.8 L492.6 419.0 L495.2 431.1 L497.3 425.0 L499.9 416.9 L502.3 421.0 L505.3 425.0 L508.0 421.0 L510.4 414.9 L512.8 406.8 L515.4 404.8 L518.1 400.8 L520.5 400.8 L522.9 398.8 L525.5 396.7 L528.6 392.7 L531.2 400.8 L534.2 396.7 L536.6 400.8 L539.1 394.7 L541.7 389.7 L544.1 392.7 L546.7 386.6 L549.2 390.7 L551.8 382.6 L554.4 378.6 L556.8 380.6 L559.9 376.5 L562.5 374.5 L564.9 378.6 L567.9 379.6 L570.4 379.6 L573.0 374.5 L575.4 369.5 L578.0 365.4 L580.7 367.5 L583.1 369.5 L586.1 366.5 L588.8 368.5 L591.2 365.4 L593.6 357.4 L596.2 359.4 L598.6 354.3 L601.3 359.4 L603.7 368.5 L606.3 374.5 L608.9 365.4 L611.4 358.4 L613.8 353.3 L616.4 360.4 L619.0 363.4 L621.5 359.4 L623.9 356.4 L627.1 358.4" stroke="#c8285f"/>
<path d="M5.0 559.9 L8.1 571.6 L11.5 561.5 L14.1 566.0 L17.2 558.9 L20.2 560.3 L23.2 553.9 L25.2 554.9 L28.3 570.4 L31.3 561.9 L36.4 557.9 L40.4 555.9 L45.4 543.8 L51.5 556.9 L54.5 551.8 L58.6 534.7 L62.6 536.7 L69.7 533.7 L73.7 525.6 L77.8 526.6 L81.8 519.5 L85.8 522.6 L90.9 517.5 L96.9 504.4 L101.0 508.4 L105.0 507.4 L110.1 503.4 L115.1 501.4 L121.2 500.3 L126.2 495.3 L129.3 489.2 L133.3 484.2 L139.4 485.2 L142.4 492.3 L147.4 479.1 L151.5 478.1 L154.5 471.1 L159.5 483.2 L160.0 482.4 L163.0 487.5 L166.1 486.5 L169.1 488.5 L172.1 489.5 L175.1 482.4 L177.2 488.5 L179.2 487.5 L182.2 488.5 L185.2 484.4 L188.3 482.4 L190.3 481.4 L192.3 489.5 L195.3 493.5 L198.4 494.5 L201.4 493.5 L204.4 490.5 L207.5 486.5 L210.5 483.4 L213.5 487.5 L216.5 476.4 L219.6 482.4 L222.6 479.4 L225.6 483.4 L228.7 488.5 L231.7 492.5 L233.7 498.6 L236.7 486.5 L239.8 476.4 L242.8 479.4 L245.8 477.4 L248.9 474.3 L251.9 473.3 L254.9 471.3 L256.0 471.0 L258.8 461.3 L261.6 458.5 L264.3 463.5 L265.4 471.0 L266.0 475.3 L269.1 482.4 L272.1 484.4 L275.1 480.4 L278.1 471.0 L280.3 457.9 L283.1 450.2 L285.3 454.6 L287.5 460.2 L289.7 465.7 L291.4 467.9 L293.6 461.3 L296.3 451.3 L299.1 445.8 L301.3 449.1 L303.5 452.4 L305.7 448.0 L308.5 441.4 L311.3 438.1 L314.0 437.0 L316.8 440.3 L318.4 450.2 L320.1 460.2 L322.3 457.9 L325.1 455.7 L327.3 457.9 L329.5 446.9 L332.2 440.8 L335.0 440.3 L338.2 439.1 L341.3 438.1 L344.3 437.1 L347.3 440.1 L350.3 438.1 L353.4 443.1 L356.4 439.1 L358.4 434.0 L360.4 444.1 L363.5 447.2 L366.5 451.2 L369.5 452.2 L372.6 454.2 L375.6 448.2 L378.6 452.2 L381.6 457.3 L384.7 449.2 L387.7 452.2 L389.7 460.3 L392.8 449.2 L395.8 442.1 L398.8 440.1 L401.8 441.1 L403.9 440.1 L406.9 442.1 L408.9 438.1 L411.9 431.3 L415.0 426.2 L418.0 423.2 L421.0 421.2 L423.0 423.2 L425.5 429.3 L427.7 421.2 L430.5 422.2 L433.1 419.2 L435.6 420.2 L438.2 415.1 L441.2 405.0 L443.2 399.0 L445.3 407.0 L448.3 412.1 L451.3 416.1 L454.4 413.1 L456.4 408.0 L459.4 407.0 L462.4 411.1 L465.5 405.0 L468.5 399.0 L471.5 395.9 L474.5 392.9 L477.7 384.6 L480.1 380.6 L482.5 378.6 L485.1 376.5 L487.8 379.6 L490.2 378.6 L492.6 384.6 L495.2 393.7 L497.3 388.7 L499.9 378.6 L502.3 381.6 L505.3 389.7 L508.0 386.6 L510.4 388.7 L512.8 393.7 L515.4 397.8 L518.1 396.7 L520.5 394.7 L522.9 392.7 L525.5 389.7 L528.6 386.6 L531.2 383.6 L534.2 380.6 L536.6 378.6 L539.1 386.6 L541.7 397.8 L544.1 395.7 L546.7 390.7 L549.2 386.6 L551.8 385.6 L554.4 400.8 L556.8 406.8 L559.3 404.8 L561.9 414.9 L564.9 420.0 L567.3 425.0 L570.4 421.0 L573.0 410.9 L575.4 404.8 L578.0 402.8 L580.7 403.8 L583.1 405.8 L586.1 403.8 L588.8 401.8 L591.2 404.8 L593.6 405.8 L596.2 402.8 L598.6 401.8 L601.3 405.8 L603.7 407.9 L606.3 402.8 L608.9 399.8 L611.4 398.8 L613.8 400.8 L616.4 402.8 L619.0 401.8 L621.5 400.8 L623.9 404.8 L627.1 397.8" stroke="#a65628"/>
</g>
<path d="M5.5 559.1 H655" stroke="#787878" stroke-width="2" stroke-dasharray="2 4" fill="none"/>
<rect x="655" y="108" width="1.5" height="529" fill="#8a8a8a"/>
<rect x="5" y="635" width="651.5" height="2" fill="#8a8a8a"/>
<g fill="#8a8a8a">
<rect x="6.2" y="636" width="1.8" height="7.4"/>
<rect x="164.1" y="636" width="1.8" height="7.4"/>
<rect x="327.0" y="636" width="1.8" height="7.4"/>
<rect x="492.1" y="636" width="1.8" height="7.4"/>
</g>
<path d="M655.7 128.9 L661.2 131.5 L655.7 134.1 Z" fill="#808080"/>
<path d="M655.7 200.4 L661.2 203.0 L655.7 205.6 Z" fill="#808080"/>
<path d="M655.7 271.9 L661.2 274.5 L655.7 277.1 Z" fill="#808080"/>
<path d="M655.7 343.4 L661.2 346.0 L655.7 348.6 Z" fill="#808080"/>
<path d="M655.7 414.9 L661.2 417.5 L655.7 420.1 Z" fill="#808080"/>
<path d="M655.7 486.4 L661.2 489.0 L655.7 491.6 Z" fill="#808080"/>
<path d="M655.7 557.9 L661.2 560.5 L655.7 563.1 Z" fill="#808080"/>
<path d="M655.7 629.4 L661.2 632.0 L655.7 634.6 Z" fill="#808080"/>
</svg>
<div class="chip" style="left:20.3px;top:120.2px;width:210.9px;border-left-color:#f4002d"></div>
<svg class="x" style="left:207.9px;top:133.8px" width="13" height="13" viewBox="0 0 13 13"><path d="M1.1 1.2 L10.6 10.7 M10.6 1.2 L1.1 10.7"/></svg>
<div class="chip" style="left:244.1px;top:120.2px;width:160.4px;border-left-color:#377eb8"></div>
<svg class="x" style="left:380.0px;top:133.8px" width="13" height="13" viewBox="0 0 13 13"><path d="M1.1 1.2 L10.6 10.7 M10.6 1.2 L1.1 10.7"/></svg>
<div class="chip" style="left:20.3px;top:162.3px;width:111.3px;border-left-color:#66a61e"></div>
<svg class="x" style="left:106.0px;top:175.9px" width="13" height="13" viewBox="0 0 13 13"><path d="M1.1 1.2 L10.6 10.7 M10.6 1.2 L1.1 10.7"/></svg>
<div class="chip" style="left:142.8px;top:162.3px;width:133.6px;border-left-color:#984ea3"></div>
<svg class="x" style="left:252.5px;top:175.9px" width="13" height="13" viewBox="0 0 13 13"><path d="M1.1 1.2 L10.6 10.7 M10.6 1.2 L1.1 10.7"/></svg>
<div class="chip" style="left:288.8px;top:162.3px;width:150.1px;border-left-color:#00ced1"></div>
<svg class="x" style="left:414.1px;top:175.9px" width="13" height="13" viewBox="0 0 13 13"><path d="M1.1 1.2 L10.6 10.7 M10.6 1.2 L1.1 10.7"/></svg>
<div class="chip" style="left:20.3px;top:204.3px;width:139.6px;border-left-color:#ff7f00"></div>
<svg class="x" style="left:135.0px;top:217.9px" width="13" height="13" viewBox="0 0 13 13"><path d="M1.1 1.2 L10.6 10.7 M10.6 1.2 L1.1 10.7"/></svg>
<div class="chip" style="left:172.2px;top:204.3px;width:130.1px;border-left-color:#b08d00"></div>
<svg class="x" style="left:278.1px;top:217.9px" width="13" height="13" viewBox="0 0 13 13"><path d="M1.1 1.2 L10.6 10.7 M10.6 1.2 L1.1 10.7"/></svg>
<div class="chip" style="left:314.0px;top:204.3px;width:144.6px;border-left-color:#7f7fcc"></div>
<svg class="x" style="left:434.1px;top:217.9px" width="13" height="13" viewBox="0 0 13 13"><path d="M1.1 1.2 L10.6 10.7 M10.6 1.2 L1.1 10.7"/></svg>
<div class="chip" style="left:20.3px;top:246.3px;width:145.1px;border-left-color:#b2ea00"></div>
<svg class="x" style="left:140.9px;top:259.9px" width="13" height="13" viewBox="0 0 13 13"><path d="M1.1 1.2 L10.6 10.7 M10.6 1.2 L1.1 10.7"/></svg>
<div class="chip" style="left:178.0px;top:246.3px;width:190.3px;border-left-color:#c8285f"></div>
<svg class="x" style="left:343.5px;top:259.9px" width="13" height="13" viewBox="0 0 13 13"><path d="M1.1 1.2 L10.6 10.7 M10.6 1.2 L1.1 10.7"/></svg>
<div class="chip" style="left:20.3px;top:288.4px;width:118.4px;border-left-color:#a65628"></div>
<svg class="x" style="left:113.3px;top:302.0px" width="13" height="13" viewBox="0 0 13 13"><path d="M1.1 1.2 L10.6 10.7 M10.6 1.2 L1.1 10.7"/></svg>
<span class="t" style="left:38.11px;top:130.80px;font-size:18.31px;font-weight:400;color:#3c3c3c;transform:scaleX(0.9918);-webkit-text-stroke:0.3px #3c3c3c">Cons. Discretionary</span>
<span class="t" style="left:262.56px;top:130.80px;font-size:18.31px;font-weight:400;color:#3c3c3c;transform:scaleX(0.9363);-webkit-text-stroke:0.3px #3c3c3c">Cons. Staples</span>
<span class="t" style="left:37.64px;top:172.90px;font-size:18.31px;font-weight:400;color:#3c3c3c;transform:scaleX(0.9707);-webkit-text-stroke:0.3px #3c3c3c">Energy</span>
<span class="t" style="left:160.42px;top:172.90px;font-size:18.31px;font-weight:400;color:#3c3c3c;transform:scaleX(0.9844);-webkit-text-stroke:0.3px #3c3c3c">Financials</span>
<span class="t" style="left:306.09px;top:172.90px;font-size:18.31px;font-weight:400;color:#3c3c3c;transform:scaleX(1.0047);-webkit-text-stroke:0.3px #3c3c3c">Health Care</span>
<span class="t" style="left:37.27px;top:214.90px;font-size:18.31px;font-weight:400;color:#3c3c3c;transform:scaleX(1.0444);-webkit-text-stroke:0.3px #3c3c3c">Industrials</span>
<span class="t" style="left:189.22px;top:214.90px;font-size:18.31px;font-weight:400;color:#3c3c3c;transform:scaleX(1.0542);-webkit-text-stroke:0.3px #3c3c3c">Materials</span>
<span class="t" style="left:331.94px;top:214.90px;font-size:18.31px;font-weight:400;color:#3c3c3c;transform:scaleX(0.9713);-webkit-text-stroke:0.3px #3c3c3c">Real Estate</span>
<span class="t" style="left:38.61px;top:256.90px;font-size:18.31px;font-weight:400;color:#3c3c3c;transform:scaleX(0.9837);-webkit-text-stroke:0.3px #3c3c3c">Technology</span>
<span class="t" style="left:195.99px;top:256.90px;font-size:18.31px;font-weight:400;color:#3c3c3c;transform:scaleX(1.0052);-webkit-text-stroke:0.3px #3c3c3c">Communications</span>
<span class="t" style="left:37.43px;top:299.00px;font-size:18.31px;font-weight:400;color:#3c3c3c;transform:scaleX(1.1137);-webkit-text-stroke:0.3px #3c3c3c">Utilities</span>
<span class="t" style="left:668.96px;top:119.48px;font-size:19.04px;font-weight:400;color:#777777;transform:scaleX(0.9365);-webkit-text-stroke:0.35px #777777">+60.00%</span>
<span class="t" style="left:668.96px;top:190.98px;font-size:19.04px;font-weight:400;color:#777777;transform:scaleX(0.9365);-webkit-text-stroke:0.35px #777777">+50.00%</span>
<span class="t" style="left:668.96px;top:262.48px;font-size:19.04px;font-weight:400;color:#777777;transform:scaleX(0.9365);-webkit-text-stroke:0.35px #777777">+40.00%</span>
<span class="t" style="left:668.96px;top:333.98px;font-size:19.04px;font-weight:400;color:#777777;transform:scaleX(0.9365);-webkit-text-stroke:0.35px #777777">+30.00%</span>
<span class="t" style="left:668.96px;top:405.48px;font-size:19.04px;font-weight:400;color:#777777;transform:scaleX(0.9365);-webkit-text-stroke:0.35px #777777">+20.00%</span>
<span class="t" style="left:668.96px;top:476.98px;font-size:19.04px;font-weight:400;color:#777777;transform:scaleX(0.9365);-webkit-text-stroke:0.35px #777777">+10.00%</span>
<span class="t" style="left:668.97px;top:548.48px;font-size:19.04px;font-weight:400;color:#777777;transform:scaleX(0.9328);-webkit-text-stroke:0.35px #777777">+0.00%</span>
<span class="t" style="left:669.20px;top:619.98px;font-size:19.04px;font-weight:400;color:#777777;transform:scaleX(0.9396);-webkit-text-stroke:0.35px #777777">-10.00%</span>
<span class="t" style="left:149.90px;top:647.09px;font-size:19.62px;font-weight:400;color:#777777;transform:scaleX(0.9950);-webkit-text-stroke:0.45px #777777">Apr</span>
<span class="t" style="left:316.14px;top:647.09px;font-size:19.62px;font-weight:400;color:#777777;transform:scaleX(0.9552);-webkit-text-stroke:0.45px #777777">Jul</span>
<span class="t" style="left:478.37px;top:647.09px;font-size:19.62px;font-weight:400;color:#777777;transform:scaleX(0.9552);-webkit-text-stroke:0.45px #777777">Oct</span>
<span class="t" style="left:-16.83px;top:650.64px;font-size:21.22px;font-weight:700;color:#777777;transform:scaleX(1.0500)">2019</span>
<div class="lab" style="top:217.0px;background:#b2ea00"></div>
<div class="lab" style="top:245.5px;background:#984ea3"></div>
<div class="lab" style="top:274.0px;background:#ff7f00"></div>
<div class="lab" style="top:302.5px;background:#c8285f"></div>
<div class="lab" style="top:331.0px;background:#377eb8"></div>
<div class="lab" style="top:359.5px;background:#f4002d"></div>
<div class="lab" style="top:388.0px;background:#7f7fcc"></div>
<div class="lab" style="top:416.5px;background:#a65628"></div>
<div class="lab" style="top:445.0px;background:#b08d00"></div>
<div class="lab" style="top:473.5px;background:#00ced1"></div>
<div class="lab" style="top:502.0px;background:#66a61e"></div>
<span class="t" style="left:664.77px;top:223.17px;font-size:18.46px;font-weight:700;color:#ffffff;transform:scaleX(0.9214)">XLK</span>
<span class="t" style="left:726.48px;top:223.17px;font-size:18.46px;font-weight:700;color:#ffffff;transform:scaleX(0.9597)">+45.82%</span>
<span class="t" style="left:664.77px;top:251.67px;font-size:18.46px;font-weight:700;color:#ffffff;transform:scaleX(0.9000)">XLF</span>
<span class="t" style="left:726.48px;top:251.67px;font-size:18.46px;font-weight:700;color:#ffffff;transform:scaleX(0.9597)">+30.91%</span>
<span class="t" style="left:664.77px;top:280.17px;font-size:18.46px;font-weight:700;color:#ffffff;transform:scaleX(0.9394)">XLI</span>
<span class="t" style="left:726.48px;top:280.17px;font-size:18.46px;font-weight:700;color:#ffffff;transform:scaleX(0.9597)">+28.82%</span>
<span class="t" style="left:664.78px;top:308.67px;font-size:18.46px;font-weight:700;color:#ffffff;transform:scaleX(0.8889)">XLC</span>
<span class="t" style="left:726.48px;top:308.67px;font-size:18.46px;font-weight:700;color:#ffffff;transform:scaleX(0.9597)">+28.15%</span>
<span class="t" style="left:664.77px;top:337.17px;font-size:18.46px;font-weight:700;color:#ffffff;transform:scaleX(0.9143)">XLP</span>
<span class="t" style="left:726.48px;top:337.17px;font-size:18.46px;font-weight:700;color:#ffffff;transform:scaleX(0.9597)">+25.99%</span>
<span class="t" style="left:664.79px;top:365.67px;font-size:18.46px;font-weight:700;color:#ffffff;transform:scaleX(0.8478)">XLY</span>
<span class="t" style="left:726.48px;top:365.67px;font-size:18.46px;font-weight:700;color:#ffffff;transform:scaleX(0.9597)">+25.67%</span>
<span class="t" style="left:664.56px;top:394.17px;font-size:18.46px;font-weight:400;color:#4a5153;transform:scaleX(0.8830)">XLRE</span>
<span class="t" style="left:726.23px;top:394.17px;font-size:18.46px;font-weight:400;color:#4a5153;transform:scaleX(0.9664)">+23.74%</span>
<span class="t" style="left:664.76px;top:422.67px;font-size:18.46px;font-weight:700;color:#ffffff;transform:scaleX(0.9521)">XLU</span>
<span class="t" style="left:726.48px;top:422.67px;font-size:18.46px;font-weight:700;color:#ffffff;transform:scaleX(0.9597)">+22.54%</span>
<span class="t" style="left:664.77px;top:451.17px;font-size:18.46px;font-weight:700;color:#ffffff;transform:scaleX(0.9035)">XLB</span>
<span class="t" style="left:726.48px;top:451.17px;font-size:18.46px;font-weight:700;color:#ffffff;transform:scaleX(0.9597)">+21.48%</span>
<span class="t" style="left:664.77px;top:479.67px;font-size:18.46px;font-weight:700;color:#ffffff;transform:scaleX(0.9324)">XLV</span>
<span class="t" style="left:726.48px;top:479.67px;font-size:18.46px;font-weight:700;color:#ffffff;transform:scaleX(0.9597)">+18.03%</span>
<span class="t" style="left:664.78px;top:508.17px;font-size:18.46px;font-weight:700;color:#ffffff;transform:scaleX(0.8914)">XLE</span>
<span class="t" style="left:736.68px;top:508.17px;font-size:18.46px;font-weight:700;color:#ffffff;transform:scaleX(0.9538)">+7.93%</span>
</div></div>
</body>
</html>
